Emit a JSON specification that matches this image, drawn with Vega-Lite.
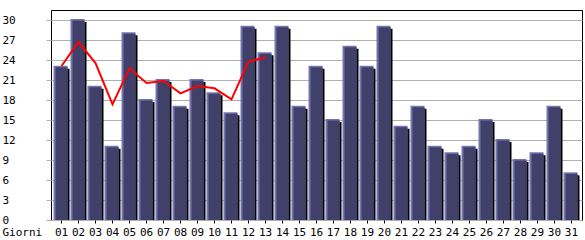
{
  "$schema": "https://vega.github.io/schema/vega-lite/v6.json",
  "width": 531,
  "height": 210,
  "autosize": {"type": "none"},
  "padding": {"left": 51, "top": 10, "right": 3, "bottom": 20},
  "background": "white",
  "config": {
    "view": {"stroke": "black", "strokeWidth": 1},
    "axis": {"labelFont": "DejaVu Sans Mono", "labelFontSize": 11, "labelColor": "black", "titleFont": "DejaVu Sans Mono", "titleFontSize": 11, "titleColor": "black", "titleFontWeight": "normal"}
  },
  "data": {
    "values": [
      {"giorno": "01", "visite": 23, "media": 23.1},
      {"giorno": "02", "visite": 30, "media": 26.7},
      {"giorno": "03", "visite": 20, "media": 23.55},
      {"giorno": "04", "visite": 11, "media": 17.35},
      {"giorno": "05", "visite": 28, "media": 22.75},
      {"giorno": "06", "visite": 18, "media": 20.55},
      {"giorno": "07", "visite": 21, "media": 20.85},
      {"giorno": "08", "visite": 17, "media": 19.0},
      {"giorno": "09", "visite": 21, "media": 20.1},
      {"giorno": "10", "visite": 19, "media": 19.75},
      {"giorno": "11", "visite": 16, "media": 18.1},
      {"giorno": "12", "visite": 29, "media": 23.75},
      {"giorno": "13", "visite": 25, "media": 24.4},
      {"giorno": "14", "visite": 29, "media": null},
      {"giorno": "15", "visite": 17, "media": null},
      {"giorno": "16", "visite": 23, "media": null},
      {"giorno": "17", "visite": 15, "media": null},
      {"giorno": "18", "visite": 26, "media": null},
      {"giorno": "19", "visite": 23, "media": null},
      {"giorno": "20", "visite": 29, "media": null},
      {"giorno": "21", "visite": 14, "media": null},
      {"giorno": "22", "visite": 17, "media": null},
      {"giorno": "23", "visite": 11, "media": null},
      {"giorno": "24", "visite": 10, "media": null},
      {"giorno": "25", "visite": 11, "media": null},
      {"giorno": "26", "visite": 15, "media": null},
      {"giorno": "27", "visite": 12, "media": null},
      {"giorno": "28", "visite": 9, "media": null},
      {"giorno": "29", "visite": 10, "media": null},
      {"giorno": "30", "visite": 17, "media": null},
      {"giorno": "31", "visite": 7, "media": null}
    ]
  },
  "encoding": {
    "x": {
      "field": "giorno",
      "type": "ordinal",
      "scale": {"paddingInner": 0, "paddingOuter": 0.118},
      "axis": {
        "title": "Giorni",
        "titleX": -49,
        "titleY": 6,
        "titleAlign": "left",
        "titleBaseline": "top",
        "titleAnchor": null,
        "labelAngle": 0,
        "labelPadding": 3,
        "labelOverlap": false,
        "tickSize": 3,
        "tickColor": "black",
        "domain": false,
        "grid": false
      }
    }
  },
  "layer": [
    {
      "mark": {"type": "bar", "color": "#000000", "width": 14, "xOffset": 1, "yOffset": 2},
      "encoding": {
        "y": {
          "field": "visite",
          "type": "quantitative",
          "stack": null,
          "scale": {"domain": [0, 31.5], "nice": false, "zero": true},
          "axis": {
            "title": null,
            "values": [0, 3, 6, 9, 12, 15, 18, 21, 24, 27, 30],
            "tickCount": 40,
            "grid": true,
            "gridColor": "#b0b0b0",
            "gridWidth": 1,
            "tickColor": "#b0b0b0",
            "tickSize": 5,
            "domain": false,
            "labelAlign": "left",
            "labelBaseline": "middle",
            "labelPadding": 44,
            "labelOverlap": false
          }
        }
      }
    },
    {
      "mark": {"type": "bar", "color": "#7474b4", "width": 14, "xOffset": -1, "yOffset": -1},
      "encoding": {"y": {"field": "visite", "type": "quantitative", "stack": null}}
    },
    {
      "mark": {"type": "bar", "color": "#404068", "width": 12, "xOffset": 0, "yOffset": 0.5},
      "encoding": {"y": {"field": "visite", "type": "quantitative", "stack": null}}
    },
    {
      "transform": [{"filter": "datum.media != null"}],
      "mark": {"type": "line", "color": "#ff0000", "strokeWidth": 2},
      "encoding": {"y": {"field": "media", "type": "quantitative"}}
    }
  ]
}
